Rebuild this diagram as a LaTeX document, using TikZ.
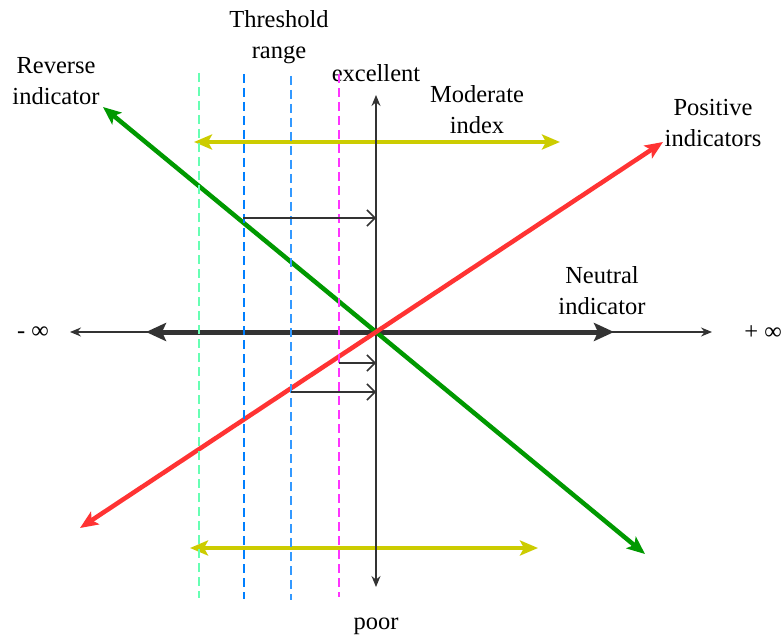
\documentclass[tikz,border=0pt]{standalone}
\usepackage{fontspec}
\setmainfont{Liberation Serif}
\newfontfamily\tnrfont{Liberation Serif}
\usetikzlibrary{arrows.meta}
\definecolor{dk}{HTML}{333333}
\definecolor{yel}{HTML}{CCCC00}
\definecolor{grn}{HTML}{009900}
\definecolor{rd}{HTML}{FF3333}
\definecolor{mint}{HTML}{66FFB3}
\definecolor{blA}{HTML}{007FFF}
\definecolor{blB}{HTML}{3399FF}
\definecolor{mag}{HTML}{FF33FF}
\tikzset{
  lbl/.style={inner sep=0pt, align=center, font=\tnrfont\fontsize{24.5}{31}\selectfont, text=black},
  thinax/.style={draw=dk, line width=1.5pt, {Stealth[length=11pt,width=9pt]}-{Stealth[length=11pt,width=9pt]}},
  thickax/.style={draw=dk, line width=5pt, {Stealth[length=20pt,width=18pt,inset=4pt]}-{Stealth[length=20pt,width=18pt,inset=4pt]}},
  fatarrow/.style={line width=4.5pt, -{Stealth[length=18pt,width=15pt,inset=4pt]}},
  dbl/.style={line width=4.5pt, {Stealth[length=18pt,width=15pt,inset=4pt]}-{Stealth[length=18pt,width=15pt,inset=4pt]}},
  thr/.style={line width=1.8pt, dash pattern=on 9pt off 5pt},
  small/.style={draw=dk, line width=1.5pt, -{Straight Barb[length=8pt,width=16pt]}}
}
\begin{document}
\begin{tikzpicture}[x=1pt,y=-1pt]
\useasboundingbox[fill=white] (0,0) rectangle (783,636);
% coordinates
\coordinate (O) at (376,332);
\coordinate (vt) at (376,95);
\coordinate (vb) at (376,587);
\coordinate (hl) at (70,332);
\coordinate (hr) at (712,332);
\coordinate (tl) at (146,332);
\coordinate (tr) at (614,332);
\coordinate (yt1) at (194,142);
\coordinate (yt2) at (560,142);
\coordinate (yb1) at (190,548);
\coordinate (yb2) at (538,548);
\coordinate (g1) at (103,107);
\coordinate (g2) at (645,554);
\coordinate (r1) at (663,142);
\coordinate (r2) at (80,528);
\coordinate (d1t) at (199,73);  \coordinate (d1b) at (199,598);
\coordinate (d2t) at (244,74);  \coordinate (d2b) at (244,599);
\coordinate (d3t) at (291,76);  \coordinate (d3b) at (291,600);
\coordinate (d4t) at (339,74);  \coordinate (d4b) at (339,597);
\coordinate (a1s) at (243,218); \coordinate (a1e) at (376,218);
\coordinate (a2s) at (339,363); \coordinate (a2e) at (376,363);
\coordinate (a3s) at (291,392); \coordinate (a3e) at (376,392);
% labels
\node[lbl] (thr) at (279,37) {Threshold\\range};
\node[lbl] (rev) at (56,81) {Reverse\\indicator};
\node[lbl] (exc) at (376,73) {excellent};
\node[lbl] (mod) at (477,110) {Moderate\\index};
\node[lbl] (pos) at (713,123) {Positive\\indicators};
\node[lbl] (neu) at (602,291) {Neutral\\indicator};
\node[lbl] (poor) at (376,626) {poor};
\node[lbl] (minf) at (33,333) {- ∞};
\node[lbl] (pinf) at (763,333) {+ ∞};
% axes
\draw[thinax] (hl) -- (hr);
\draw[thickax] (tl) -- (tr);
\draw[dbl, draw=yel, color=yel] (yt1) -- (yt2);
\draw[dbl, draw=yel, color=yel] (yb1) -- (yb2);
\draw[thinax] (vt) -- (vb);
\draw[fatarrow, draw=grn, color=grn] (O) -- (g1);
\draw[fatarrow, draw=grn, color=grn] (O) -- (g2);
\draw[fatarrow, draw=rd, color=rd] (O) -- (r1);
\draw[fatarrow, draw=rd, color=rd] (O) -- (r2);
% threshold lines
\draw[thr, draw=mint] (d1t) -- (d1b);
\draw[thr, draw=blA] (d2t) -- (d2b);
\draw[thr, draw=blB] (d3t) -- (d3b);
\draw[thr, draw=mag] (d4t) -- (d4b);
% small arrows
\draw[small] (a1s) -- (a1e);
\draw[small] (a2s) -- (a2e);
\draw[small] (a3s) -- (a3e);
\end{tikzpicture}
\end{document}
